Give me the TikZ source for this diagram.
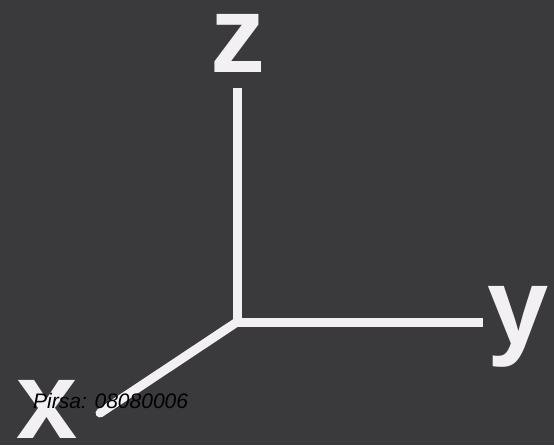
\documentclass[tikz,border=0pt]{standalone}
\usepackage{fontspec}
\setmainfont{Liberation Sans}
\usepackage{xcolor}
\usetikzlibrary{positioning}
\definecolor{board}{RGB}{58,58,60}
\definecolor{chalk}{RGB}{242,240,242}

\begin{document}
\begin{tikzpicture}[
    x=1pt, y=-1pt,
    axis/.style={draw=chalk, line width=9pt, line cap=butt},
    axislabel/.style={text=chalk, font=\fontsize{110}{110}\selectfont\bfseries, inner sep=0pt},
    stamp/.style={text=black, font=\fontsize{21}{21}\selectfont\itshape, inner sep=0pt, anchor=base west},
    ]

    % Background
    \fill[board] (0,0) rectangle (554,445);
    \useasboundingbox (0,0) rectangle (554,445);

    % Axis end points
    \coordinate (o) at (237,322);
    \coordinate (zend) at (237,88);
    \coordinate (yend) at (483,322);
    \coordinate (xend) at (100,413);

    % Axes
    \draw[axis] (o) -- (zend);
    \draw[axis] ([xshift=-4.5pt]o) -- (yend);
    \draw[axis, line cap=round] (o) -- (xend);

    % Labels
    \node[axislabel] (zlab) at (238,43) {z};
    \node[axislabel] (ylab) at (518,327) {y};
    \node[axislabel] (xlab) at (47,409) {x};

    % Stamp
    \node[stamp] (pirsa) at (33,408) {Pirsa: 08080006};

\end{tikzpicture}
\end{document}
